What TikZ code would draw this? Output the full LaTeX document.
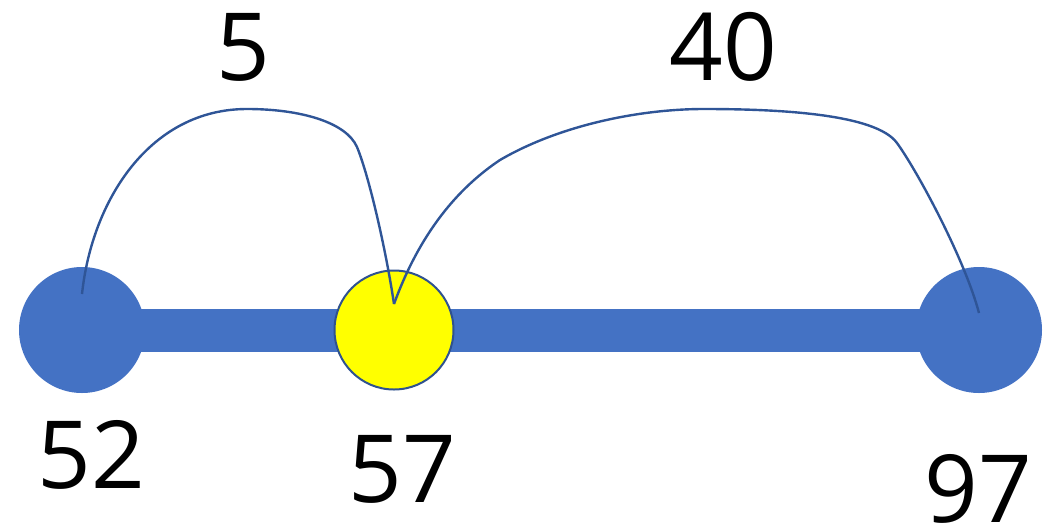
\documentclass[tikz,border=0pt]{standalone}
\usepackage{fontspec}
\setmainfont{Open Sans}
\definecolor{barblue}{HTML}{4472C4}
\definecolor{linkblue}{HTML}{2F5597}
\definecolor{ringblue}{HTML}{2F528F}
\definecolor{hiyellow}{HTML}{FFFF00}
\begin{document}
\begin{tikzpicture}[x=1pt,y=-1pt,
  endpt/.style={circle,fill=barblue,minimum size=126pt,inner sep=0pt},
  midpt/.style={circle,fill=hiyellow,draw=ringblue,line width=2pt,minimum size=119pt,inner sep=0pt},
  bar/.style={barblue,line width=43pt},
  link/.style={linkblue,line width=2.4pt},
  num/.style={anchor=base,inner sep=0pt,font=\fontsize{94}{100}\selectfont}]
\useasboundingbox (0,0) rectangle (1050,528);
\coordinate (L) at (82,330);
\coordinate (M) at (394,330);
\coordinate (R) at (979,330);
\draw[bar] (L) -- (R);
\node[endpt] (n52) at (L) {};
\node[endpt] (n97) at (R) {};
\node[midpt] (n57) at (M) {};
\coordinate (a52) at (82,294);
\coordinate (a57) at (394,304);
\coordinate (a97) at (979,313);
\coordinate (t1) at (247,109);
\coordinate (k1) at (357,147);
\coordinate (p2) at (500,160);
\coordinate (t2) at (704,109);
\coordinate (k2) at (897,143);
\draw[link] (a52) .. controls (92,200) and (150,109) .. (t1)
  .. controls (300,109) and (346,122) .. (k1)
  .. controls (369,176) and (386,250) .. (a57);
\draw[link] (a57) .. controls (410,260) and (440,200) .. (p2)
  .. controls (560,125) and (640,109) .. (t2)
  .. controls (780,109) and (876,114) .. (k2)
  .. controls (918,172) and (965,260) .. (a97);
\node[num] (l52) at (91,488) {52};
\node[num] (l57) at (402,502) {57};
\node[num] (l97) at (978,522) {97};
\node[num] (l5) at (243,80) {5};
\node[num] (l40) at (723,80) {40};
\end{tikzpicture}
\end{document}
